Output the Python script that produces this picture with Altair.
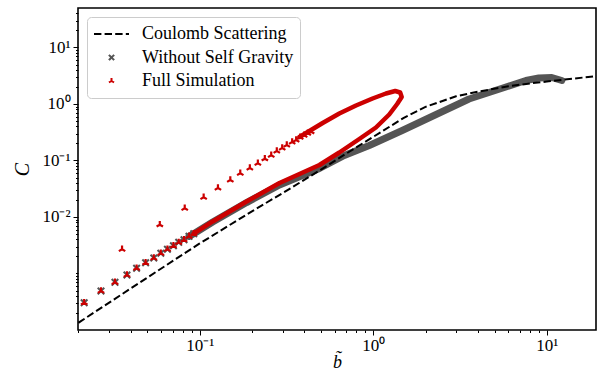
import altair as alt
import pandas as pd

# ---------------- data ----------------
series = ["Coulomb Scattering", "Without Self Gravity", "Full Simulation"]
colors = ["#000000", "#555555", "#cc0000"]

# Coulomb scattering (dashed)
coulomb_b = [0.02, 0.05, 0.1, 0.2, 0.3, 0.5, 0.7, 1.0, 1.5, 2.0, 3.0, 4.0, 6.0, 8.0, 10.0, 14.0, 20.0]
coulomb_c = [1.34e-4, 8.5e-4, 3.4e-3, 0.0126, 0.0264, 0.069, 0.133, 0.262, 0.57, 0.89, 1.37, 1.65, 2.06, 2.31, 2.5, 2.8, 3.15]

# Without self gravity: separated markers at small b
nosg_b = [0.0216, 0.0270, 0.0325, 0.0381, 0.0433, 0.0488, 0.0544, 0.0597, 0.0652, 0.0706, 0.0757, 0.0812, 0.0868, 0.0924]
nosg_c = [3.04e-4, 4.9e-4, 6.98e-4, 9.4e-4, 1.24e-3, 1.55e-3, 1.88e-3, 2.28e-3, 2.68e-3, 3.10e-3, 3.56e-3, 3.96e-3, 4.55e-3, 5.06e-3]
# Without self gravity: dense band of markers
nosg_band_b = [0.0868, 0.0924, 0.1188, 0.1863, 0.2883, 0.4894, 0.6813, 0.9484, 1.468, 2.302, 3.563, 5.813, 7.572, 8.995, 10.68, 12.20]
nosg_band_c = [4.55e-3, 5.06e-3, 8.15e-3, 0.0180, 0.0368, 0.0722, 0.1226, 0.1843, 0.3396, 0.652, 1.226, 2.0, 2.606, 2.885, 2.944, 2.606]

# Full simulation: separated markers (lower branch coincides with the run without self gravity)
full_lower_b = [0.0216, 0.0270, 0.0325, 0.0381, 0.0433, 0.0488, 0.0544, 0.0597, 0.0652, 0.0706, 0.0757, 0.0812, 0.0868, 0.0924]
full_lower_c = [3.04e-4, 4.9e-4, 6.98e-4, 9.4e-4, 1.24e-3, 1.55e-3, 1.88e-3, 2.28e-3, 2.68e-3, 3.10e-3, 3.56e-3, 3.96e-3, 4.55e-3, 5.06e-3]
full_upper_b = [0.0357, 0.0589, 0.0820, 0.1054, 0.1274, 0.1501, 0.1713, 0.1945, 0.2163, 0.2373, 0.2583, 0.2781, 0.2988, 0.3175, 0.3410, 0.3595, 0.3791, 0.3996, 0.4193, 0.4384]
full_upper_c = [2.68e-3, 7.31e-3, 0.01426, 0.02232, 0.0326, 0.04517, 0.05936, 0.07368, 0.0892, 0.1076, 0.1236, 0.1473, 0.1664, 0.1880, 0.2126, 0.2306, 0.2574, 0.2793, 0.3030, 0.3233]
# Full simulation: dense loop of markers
full_band_b = [0.0924, 0.1188, 0.1863, 0.2883, 0.4894, 0.6375, 0.8308, 1.036, 1.236, 1.373, 1.458, 1.429, 1.338, 1.183, 0.9908, 0.7954, 0.6375, 0.5111, 0.4104, 0.3756]
full_band_c = [5.06e-3, 8.33e-3, 0.0188, 0.03996, 0.0833, 0.1385, 0.2401, 0.3837, 0.652, 1.0, 1.33, 1.598, 1.699, 1.534, 1.251, 0.9407, 0.679, 0.461, 0.3067, 0.2606]

# ticks
x_major = [0.1, 1, 10]
x_minor = [0.02, 0.03, 0.04, 0.05, 0.06, 0.07, 0.08, 0.09,
           0.2, 0.3, 0.4, 0.5, 0.6, 0.7, 0.8, 0.9,
           2, 3, 4, 5, 6, 7, 8, 9]
y_major = [0.01, 0.1, 1, 10]
y_minor = [0.0002, 0.0003, 0.0004, 0.0005, 0.0006, 0.0007, 0.0008, 0.0009, 0.001,
           0.002, 0.003, 0.004, 0.005, 0.006, 0.007, 0.008, 0.009,
           0.02, 0.03, 0.04, 0.05, 0.06, 0.07, 0.08, 0.09,
           0.2, 0.3, 0.4, 0.5, 0.6, 0.7, 0.8, 0.9,
           2, 3, 4, 5, 6, 7, 8, 9, 20, 30, 40]

# ---------------- tables ----------------
df_coul = pd.DataFrame({"b": coulomb_b, "c": coulomb_c, "series": series[0]})
df_nosg = pd.DataFrame({"b": nosg_b, "c": nosg_c, "series": series[1]})
df_nosg_band = pd.DataFrame({"b": nosg_band_b, "c": nosg_band_c, "i": list(range(len(nosg_band_b)))})
df_full = pd.DataFrame({"b": full_lower_b + full_upper_b, "c": full_lower_c + full_upper_c, "series": series[2]})
df_full_band = pd.DataFrame({"b": full_band_b, "c": full_band_c, "i": list(range(len(full_band_b)))})

FONT = "Liberation Serif"
X_PATH = "M-0.15,-0.15L0.15,0.15M-0.15,0.15L0.15,-0.15"
TRI_PATH = "M0,0L0,-0.17M0,0L-0.147,0.085M0,0L0.147,0.085"
DASH = [7.4, 3.2]

x_lab = "datum.value == 0.1 ? '10⁻¹' : datum.value == 1 ? '10⁰' : datum.value == 10 ? '10¹' : ''"
y_lab = ("datum.value == 0.01 ? '10⁻²' : datum.value == 0.1 ? '10⁻¹' : "
         "datum.value == 1 ? '10⁰' : datum.value == 10 ? '10¹' : ''")
x_test = "datum.value == 0.1 || datum.value == 1 || datum.value == 10"
y_test = "datum.value == 0.01 || datum.value == 0.1 || datum.value == 1 || datum.value == 10"

xaxis = alt.Axis(values=x_major + x_minor, labelExpr=x_lab, grid=False, domain=False,
                 tickColor="black", tickWidth=1,
                 tickSize={"condition": {"test": x_test, "value": 5}, "value": 2.5},
                 labelFont=FONT, labelFontSize=17, labelColor="black", labelPadding=2,
                 labelFlush=False, labelOverlap=False,
                 title="b̃", titleFont=FONT, titleFontStyle="italic", titleFontWeight="normal",
                 titleFontSize=18, titleColor="black", titlePadding=0)
yaxis = alt.Axis(values=y_major + y_minor, labelExpr=y_lab, grid=False, domain=False,
                 tickColor="black", tickWidth=1,
                 tickSize={"condition": {"test": y_test, "value": 5}, "value": 2.5},
                 labelFont=FONT, labelFontSize=17, labelColor="black", labelPadding=3,
                 labelFlush=False, labelOverlap=False,
                 title="C", titleFont=FONT, titleFontStyle="italic", titleFontWeight="normal",
                 titleFontSize=20, titleColor="black", titlePadding=9)

xenc = alt.X("b:Q", scale=alt.Scale(type="log", domain=[0.0199, 19.2]), axis=xaxis)
yenc = alt.Y("c:Q", scale=alt.Scale(type="log", domain=[1e-4, 50]), axis=yaxis)

leg = alt.Legend(title=None, orient="top-left", offset=9, padding=6,
                 labelFont=FONT, labelFontSize=18, labelColor="black", labelOffset=12,
                 labelLimit=400, symbolSize=1225, symbolStrokeWidth=2,
                 clipHeight=22, rowPadding=1.5,
                 fillColor="rgba(255,255,255,0.85)", strokeColor="#cccccc", cornerRadius=4)

color = alt.Color("series:N", scale=alt.Scale(domain=series, range=colors), legend=leg)
shape = alt.Shape("series:N", scale=alt.Scale(domain=series, range=["stroke", X_PATH, TRI_PATH]), legend=leg)
dash = alt.StrokeDash("series:N", scale=alt.Scale(domain=series, range=[DASH, [1, 0], [1, 0]]), legend=leg)

gray_band = alt.Chart(df_nosg_band).mark_line(
    color="#555555", strokeWidth=7, strokeCap="round", strokeJoin="round", clip=True
).encode(x=xenc, y=yenc, order="i:Q")

gray_pts = alt.Chart(df_nosg).mark_point(
    filled=False, strokeWidth=2, size=1900, opacity=1, clip=True
).encode(x=xenc, y=yenc, color=color, shape=shape)

coul = alt.Chart(df_coul).mark_line(strokeWidth=2, clip=True).encode(
    x=xenc, y=yenc, color=color, strokeDash=dash)

red_band = alt.Chart(df_full_band).mark_line(
    color="#cc0000", strokeWidth=4.5, strokeCap="round", strokeJoin="round", clip=True
).encode(x=xenc, y=yenc, order="i:Q")

red_pts = alt.Chart(df_full).mark_point(
    filled=False, strokeWidth=2.2, size=1900, opacity=1, clip=True
).encode(x=xenc, y=yenc, color=color, shape=shape)

chart = alt.layer(gray_band, gray_pts, coul, red_band, red_pts).properties(
    width=518, height=322,
    padding={"left": 78, "top": 8, "right": 1, "bottom": 44},
    autosize=alt.AutoSizeParams(type="none"),
    background="white",
).configure_view(stroke="black", strokeWidth=1.6)

chart.save("out.html", embed_options={"renderer": "svg", "actions": False})
